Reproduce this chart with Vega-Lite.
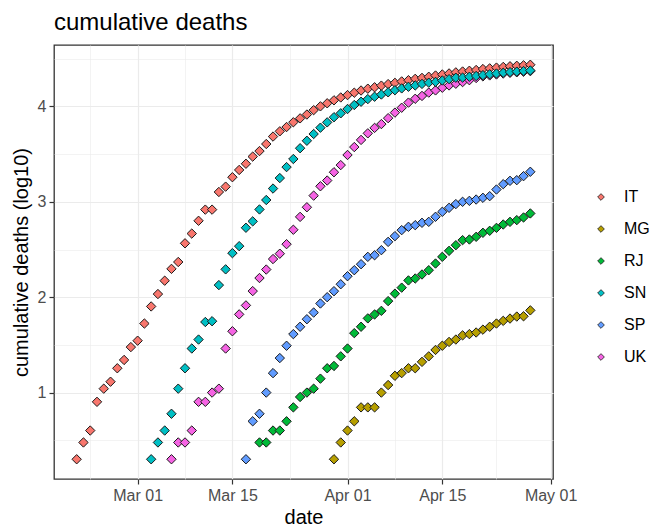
{
"$schema": "https://vega.github.io/schema/vega-lite/v6.json",
"width": 499, "height": 434,
"autosize": {"type": "none"},
"padding": {"left": 54, "top": 45, "right": 100, "bottom": 48},
"background": "white",
"title": {"text": "cumulative deaths", "anchor": "start", "frame": "group", "fontSize": 24, "font": "Liberation Sans", "fontWeight": "normal", "color": "#000000", "offset": 10},
"config": {"view": {"stroke": "#333333", "strokeWidth": 1.3}, "font": "Liberation Sans"},
"data": {"values": [
{"r":"IT","d":"2020-02-21","v":0.301},{"r":"IT","d":"2020-02-22","v":0.477},{"r":"IT","d":"2020-02-23","v":0.602},{"r":"IT","d":"2020-02-24","v":0.903},{"r":"IT","d":"2020-02-25","v":1.041},{"r":"IT","d":"2020-02-26","v":1.114},{"r":"IT","d":"2020-02-27","v":1.255},{"r":"IT","d":"2020-02-28","v":1.342},{"r":"IT","d":"2020-02-29","v":1.477},
{"r":"IT","d":"2020-03-01","v":1.544},{"r":"IT","d":"2020-03-02","v":1.724},{"r":"IT","d":"2020-03-03","v":1.903},{"r":"IT","d":"2020-03-04","v":2.033},{"r":"IT","d":"2020-03-05","v":2.173},{"r":"IT","d":"2020-03-06","v":2.297},{"r":"IT","d":"2020-03-07","v":2.369},{"r":"IT","d":"2020-03-08","v":2.565},{"r":"IT","d":"2020-03-09","v":2.667},{"r":"IT","d":"2020-03-10","v":2.801},{"r":"IT","d":"2020-03-11","v":2.918},{"r":"IT","d":"2020-03-12","v":2.918},{"r":"IT","d":"2020-03-13","v":3.103},{"r":"IT","d":"2020-03-14","v":3.159},{"r":"IT","d":"2020-03-15","v":3.258},{"r":"IT","d":"2020-03-16","v":3.334},{"r":"IT","d":"2020-03-17","v":3.399},{"r":"IT","d":"2020-03-18","v":3.474},{"r":"IT","d":"2020-03-19","v":3.532},{"r":"IT","d":"2020-03-20","v":3.606},{"r":"IT","d":"2020-03-21","v":3.684},{"r":"IT","d":"2020-03-22","v":3.739},{"r":"IT","d":"2020-03-23","v":3.784},{"r":"IT","d":"2020-03-24","v":3.834},{"r":"IT","d":"2020-03-25","v":3.875},{"r":"IT","d":"2020-03-26","v":3.915},{"r":"IT","d":"2020-03-27","v":3.961},{"r":"IT","d":"2020-03-28","v":4.001},{"r":"IT","d":"2020-03-29","v":4.033},{"r":"IT","d":"2020-03-30","v":4.064},{"r":"IT","d":"2020-03-31","v":4.094},
{"r":"IT","d":"2020-04-01","v":4.119},{"r":"IT","d":"2020-04-02","v":4.144},{"r":"IT","d":"2020-04-03","v":4.167},{"r":"IT","d":"2020-04-04","v":4.186},{"r":"IT","d":"2020-04-05","v":4.201},{"r":"IT","d":"2020-04-06","v":4.218},{"r":"IT","d":"2020-04-07","v":4.234},{"r":"IT","d":"2020-04-08","v":4.247},{"r":"IT","d":"2020-04-09","v":4.262},{"r":"IT","d":"2020-04-10","v":4.275},{"r":"IT","d":"2020-04-11","v":4.289},{"r":"IT","d":"2020-04-12","v":4.299},{"r":"IT","d":"2020-04-13","v":4.311},{"r":"IT","d":"2020-04-14","v":4.324},{"r":"IT","d":"2020-04-15","v":4.335},{"r":"IT","d":"2020-04-16","v":4.346},{"r":"IT","d":"2020-04-17","v":4.357},{"r":"IT","d":"2020-04-18","v":4.366},{"r":"IT","d":"2020-04-19","v":4.374},{"r":"IT","d":"2020-04-20","v":4.382},{"r":"IT","d":"2020-04-21","v":4.392},{"r":"IT","d":"2020-04-22","v":4.399},{"r":"IT","d":"2020-04-23","v":4.407},{"r":"IT","d":"2020-04-24","v":4.414},{"r":"IT","d":"2020-04-25","v":4.421},{"r":"IT","d":"2020-04-26","v":4.426},{"r":"IT","d":"2020-04-27","v":4.431},{"r":"IT","d":"2020-04-28","v":4.437},
{"r":"MG","d":"2020-03-30","v":0.301},{"r":"MG","d":"2020-03-31","v":0.477},{"r":"MG","d":"2020-04-01","v":0.602},{"r":"MG","d":"2020-04-02","v":0.699},{"r":"MG","d":"2020-04-03","v":0.845},{"r":"MG","d":"2020-04-04","v":0.845},{"r":"MG","d":"2020-04-05","v":0.845},{"r":"MG","d":"2020-04-06","v":1.0},{"r":"MG","d":"2020-04-07","v":1.079},{"r":"MG","d":"2020-04-08","v":1.176},{"r":"MG","d":"2020-04-09","v":1.204},{"r":"MG","d":"2020-04-10","v":1.255},{"r":"MG","d":"2020-04-11","v":1.255},{"r":"MG","d":"2020-04-12","v":1.322},{"r":"MG","d":"2020-04-13","v":1.38},{"r":"MG","d":"2020-04-14","v":1.447},{"r":"MG","d":"2020-04-15","v":1.491},{"r":"MG","d":"2020-04-16","v":1.531},{"r":"MG","d":"2020-04-17","v":1.556},{"r":"MG","d":"2020-04-18","v":1.6},{"r":"MG","d":"2020-04-19","v":1.613},{"r":"MG","d":"2020-04-20","v":1.63},{"r":"MG","d":"2020-04-21","v":1.66},{"r":"MG","d":"2020-04-22","v":1.69},{"r":"MG","d":"2020-04-23","v":1.724},{"r":"MG","d":"2020-04-24","v":1.752},{"r":"MG","d":"2020-04-25","v":1.776},{"r":"MG","d":"2020-04-26","v":1.797},{"r":"MG","d":"2020-04-27","v":1.8},{"r":"MG","d":"2020-04-28","v":1.862},
{"r":"RJ","d":"2020-03-19","v":0.477},{"r":"RJ","d":"2020-03-20","v":0.477},{"r":"RJ","d":"2020-03-21","v":0.602},{"r":"RJ","d":"2020-03-22","v":0.602},{"r":"RJ","d":"2020-03-23","v":0.699},{"r":"RJ","d":"2020-03-24","v":0.845},{"r":"RJ","d":"2020-03-25","v":0.954},{"r":"RJ","d":"2020-03-26","v":1.0},{"r":"RJ","d":"2020-03-27","v":1.041},{"r":"RJ","d":"2020-03-28","v":1.146},{"r":"RJ","d":"2020-03-29","v":1.255},{"r":"RJ","d":"2020-03-30","v":1.279},{"r":"RJ","d":"2020-03-31","v":1.38},{"r":"RJ","d":"2020-04-01","v":1.462},{"r":"RJ","d":"2020-04-02","v":1.623},{"r":"RJ","d":"2020-04-03","v":1.69},{"r":"RJ","d":"2020-04-04","v":1.778},{"r":"RJ","d":"2020-04-05","v":1.819},{"r":"RJ","d":"2020-04-06","v":1.857},{"r":"RJ","d":"2020-04-07","v":1.959},{"r":"RJ","d":"2020-04-08","v":2.037},{"r":"RJ","d":"2020-04-09","v":2.1},{"r":"RJ","d":"2020-04-10","v":2.176},{"r":"RJ","d":"2020-04-11","v":2.196},{"r":"RJ","d":"2020-04-12","v":2.238},{"r":"RJ","d":"2020-04-13","v":2.283},{"r":"RJ","d":"2020-04-14","v":2.353},{"r":"RJ","d":"2020-04-15","v":2.423},{"r":"RJ","d":"2020-04-16","v":2.486},{"r":"RJ","d":"2020-04-17","v":2.545},{"r":"RJ","d":"2020-04-18","v":2.598},{"r":"RJ","d":"2020-04-19","v":2.605},{"r":"RJ","d":"2020-04-20","v":2.633},{"r":"RJ","d":"2020-04-21","v":2.675},{"r":"RJ","d":"2020-04-22","v":2.696},{"r":"RJ","d":"2020-04-23","v":2.727},{"r":"RJ","d":"2020-04-24","v":2.762},{"r":"RJ","d":"2020-04-25","v":2.79},{"r":"RJ","d":"2020-04-26","v":2.808},{"r":"RJ","d":"2020-04-27","v":2.836},{"r":"RJ","d":"2020-04-28","v":2.878},
{"r":"SP","d":"2020-03-17","v":0.301},{"r":"SP","d":"2020-03-18","v":0.699},{"r":"SP","d":"2020-03-19","v":0.778},{"r":"SP","d":"2020-03-20","v":1.0},{"r":"SP","d":"2020-03-21","v":1.204},{"r":"SP","d":"2020-03-22","v":1.362},{"r":"SP","d":"2020-03-23","v":1.491},{"r":"SP","d":"2020-03-24","v":1.613},{"r":"SP","d":"2020-03-25","v":1.69},{"r":"SP","d":"2020-03-26","v":1.769},{"r":"SP","d":"2020-03-27","v":1.839},{"r":"SP","d":"2020-03-28","v":1.934},{"r":"SP","d":"2020-03-29","v":2.0},{"r":"SP","d":"2020-03-30","v":2.063},{"r":"SP","d":"2020-03-31","v":2.136},{"r":"SP","d":"2020-04-01","v":2.22},{"r":"SP","d":"2020-04-02","v":2.283},{"r":"SP","d":"2020-04-03","v":2.346},{"r":"SP","d":"2020-04-04","v":2.423},{"r":"SP","d":"2020-04-05","v":2.44},{"r":"SP","d":"2020-04-06","v":2.493},{"r":"SP","d":"2020-04-07","v":2.58},{"r":"SP","d":"2020-04-08","v":2.64},{"r":"SP","d":"2020-04-09","v":2.703},{"r":"SP","d":"2020-04-10","v":2.738},{"r":"SP","d":"2020-04-11","v":2.755},{"r":"SP","d":"2020-04-12","v":2.78},{"r":"SP","d":"2020-04-13","v":2.79},{"r":"SP","d":"2020-04-14","v":2.843},{"r":"SP","d":"2020-04-15","v":2.895},{"r":"SP","d":"2020-04-16","v":2.937},{"r":"SP","d":"2020-04-17","v":2.976},{"r":"SP","d":"2020-04-18","v":3.0},{"r":"SP","d":"2020-04-19","v":3.01},{"r":"SP","d":"2020-04-20","v":3.024},{"r":"SP","d":"2020-04-21","v":3.042},{"r":"SP","d":"2020-04-22","v":3.059},{"r":"SP","d":"2020-04-23","v":3.129},{"r":"SP","d":"2020-04-24","v":3.185},{"r":"SP","d":"2020-04-25","v":3.22},{"r":"SP","d":"2020-04-26","v":3.227},{"r":"SP","d":"2020-04-27","v":3.269},{"r":"SP","d":"2020-04-28","v":3.315},
{"r":"UK","d":"2020-03-06","v":0.301},{"r":"UK","d":"2020-03-07","v":0.477},{"r":"UK","d":"2020-03-08","v":0.477},{"r":"UK","d":"2020-03-09","v":0.602},{"r":"UK","d":"2020-03-10","v":0.903},{"r":"UK","d":"2020-03-11","v":0.903},{"r":"UK","d":"2020-03-12","v":1.0},{"r":"UK","d":"2020-03-13","v":1.041},{"r":"UK","d":"2020-03-14","v":1.462},{"r":"UK","d":"2020-03-15","v":1.643},{"r":"UK","d":"2020-03-16","v":1.82},{"r":"UK","d":"2020-03-17","v":1.914},{"r":"UK","d":"2020-03-18","v":2.064},{"r":"UK","d":"2020-03-19","v":2.201},{"r":"UK","d":"2020-03-20","v":2.29},{"r":"UK","d":"2020-03-21","v":2.4},{"r":"UK","d":"2020-03-22","v":2.456},{"r":"UK","d":"2020-03-23","v":2.556},{"r":"UK","d":"2020-03-24","v":2.707},{"r":"UK","d":"2020-03-25","v":2.842},{"r":"UK","d":"2020-03-26","v":2.943},{"r":"UK","d":"2020-03-27","v":3.065},{"r":"UK","d":"2020-03-28","v":3.163},{"r":"UK","d":"2020-03-29","v":3.223},{"r":"UK","d":"2020-03-30","v":3.31},{"r":"UK","d":"2020-03-31","v":3.385},{"r":"UK","d":"2020-04-01","v":3.491},{"r":"UK","d":"2020-04-02","v":3.574},{"r":"UK","d":"2020-04-03","v":3.649},{"r":"UK","d":"2020-04-04","v":3.718},{"r":"UK","d":"2020-04-05","v":3.775},{"r":"UK","d":"2020-04-06","v":3.815},{"r":"UK","d":"2020-04-07","v":3.877},{"r":"UK","d":"2020-04-08","v":3.935},{"r":"UK","d":"2020-04-09","v":3.986},{"r":"UK","d":"2020-04-10","v":4.04},{"r":"UK","d":"2020-04-11","v":4.08},{"r":"UK","d":"2020-04-12","v":4.11},{"r":"UK","d":"2020-04-13","v":4.145},{"r":"UK","d":"2020-04-14","v":4.168},{"r":"UK","d":"2020-04-15","v":4.196},{"r":"UK","d":"2020-04-16","v":4.22},{"r":"UK","d":"2020-04-17","v":4.238},{"r":"UK","d":"2020-04-18","v":4.255},{"r":"UK","d":"2020-04-19","v":4.275},{"r":"UK","d":"2020-04-20","v":4.298},{"r":"UK","d":"2020-04-21","v":4.315},{"r":"UK","d":"2020-04-22","v":4.325},{"r":"UK","d":"2020-04-23","v":4.335},{"r":"UK","d":"2020-04-24","v":4.345},{"r":"UK","d":"2020-04-25","v":4.352},{"r":"UK","d":"2020-04-26","v":4.358},{"r":"UK","d":"2020-04-27","v":4.364},{"r":"UK","d":"2020-04-28","v":4.37},
{"r":"SN","d":"2020-03-03","v":0.301},{"r":"SN","d":"2020-03-04","v":0.477},{"r":"SN","d":"2020-03-05","v":0.602},{"r":"SN","d":"2020-03-06","v":0.778},{"r":"SN","d":"2020-03-07","v":1.041},{"r":"SN","d":"2020-03-08","v":1.255},{"r":"SN","d":"2020-03-09","v":1.462},{"r":"SN","d":"2020-03-10","v":1.556},{"r":"SN","d":"2020-03-11","v":1.74},{"r":"SN","d":"2020-03-12","v":1.748},{"r":"SN","d":"2020-03-13","v":2.127},{"r":"SN","d":"2020-03-14","v":2.292},{"r":"SN","d":"2020-03-15","v":2.462},{"r":"SN","d":"2020-03-16","v":2.535},{"r":"SN","d":"2020-03-17","v":2.728},{"r":"SN","d":"2020-03-18","v":2.795},{"r":"SN","d":"2020-03-19","v":2.92},{"r":"SN","d":"2020-03-20","v":3.019},{"r":"SN","d":"2020-03-21","v":3.139},{"r":"SN","d":"2020-03-22","v":3.249},{"r":"SN","d":"2020-03-23","v":3.364},{"r":"SN","d":"2020-03-24","v":3.449},{"r":"SN","d":"2020-03-25","v":3.562},{"r":"SN","d":"2020-03-26","v":3.64},{"r":"SN","d":"2020-03-27","v":3.711},{"r":"SN","d":"2020-03-28","v":3.777},{"r":"SN","d":"2020-03-29","v":3.833},{"r":"SN","d":"2020-03-30","v":3.887},{"r":"SN","d":"2020-03-31","v":3.928},{"r":"SN","d":"2020-04-01","v":3.973},{"r":"SN","d":"2020-04-02","v":4.015},{"r":"SN","d":"2020-04-03","v":4.049},{"r":"SN","d":"2020-04-04","v":4.077},{"r":"SN","d":"2020-04-05","v":4.102},{"r":"SN","d":"2020-04-06","v":4.125},{"r":"SN","d":"2020-04-07","v":4.148},{"r":"SN","d":"2020-04-08","v":4.17},{"r":"SN","d":"2020-04-09","v":4.189},{"r":"SN","d":"2020-04-10","v":4.206},{"r":"SN","d":"2020-04-11","v":4.22},{"r":"SN","d":"2020-04-12","v":4.236},{"r":"SN","d":"2020-04-13","v":4.249},{"r":"SN","d":"2020-04-14","v":4.257},{"r":"SN","d":"2020-04-15","v":4.272},{"r":"SN","d":"2020-04-16","v":4.286},{"r":"SN","d":"2020-04-17","v":4.301},{"r":"SN","d":"2020-04-18","v":4.302},{"r":"SN","d":"2020-04-19","v":4.311},{"r":"SN","d":"2020-04-20","v":4.319},{"r":"SN","d":"2020-04-21","v":4.328},{"r":"SN","d":"2020-04-22","v":4.337},{"r":"SN","d":"2020-04-23","v":4.345},{"r":"SN","d":"2020-04-24","v":4.353},{"r":"SN","d":"2020-04-25","v":4.36},{"r":"SN","d":"2020-04-26","v":4.365},{"r":"SN","d":"2020-04-27","v":4.371},{"r":"SN","d":"2020-04-28","v":4.377}
]},
"mark": {"type": "point", "shape": "diamond", "filled": true, "size": 88, "stroke": "#1a1a1a", "strokeWidth": 1, "opacity": 1},
"encoding": {
  "x": {"field": "d", "type": "temporal",
    "scale": {"type": "utc", "domain": [{"year": 2020, "month": 2, "date": 17, "hours": 15, "minutes": 36, "utc": true}, {"year": 2020, "month": 5, "date": 1, "hours": 8, "minutes": 24, "utc": true}]},
    "axis": {"title": "date",
      "values": [{"year": 2020, "month": 2, "date": 23, "utc": true}, {"year": 2020, "month": 3, "date": 1, "utc": true}, {"year": 2020, "month": 3, "date": 8, "utc": true}, {"year": 2020, "month": 3, "date": 15, "utc": true}, {"year": 2020, "month": 3, "date": 23, "hours": 12, "utc": true}, {"year": 2020, "month": 4, "date": 1, "utc": true}, {"year": 2020, "month": 4, "date": 8, "utc": true}, {"year": 2020, "month": 4, "date": 15, "utc": true}, {"year": 2020, "month": 4, "date": 23, "utc": true}, {"year": 2020, "month": 5, "date": 1, "utc": true}],
      "labelExpr": "(utcdate(datum.value) == 1 || utcdate(datum.value) == 15) ? utcFormat(datum.value, '%b %d') : ''",
      "grid": true, "gridColor": "#EBEBEB",
      "gridWidth": {"condition": {"test": "utcdate(datum.value) == 1 || utcdate(datum.value) == 15", "value": 1.2}, "value": 0.6},
      "tickOpacity": {"condition": {"test": "utcdate(datum.value) == 1 || utcdate(datum.value) == 15", "value": 1}, "value": 0},
      "tickColor": "#333333", "tickSize": 5, "tickWidth": 1.2, "domain": false,
      "labelFontSize": 16, "labelColor": "#4D4D4D", "labelPadding": 3, "labelFlush": false, "labelOverlap": false, "labelFont": "Liberation Sans",
      "titleFontSize": 20, "titleFontWeight": "normal", "titleColor": "#000000", "titlePadding": 4, "titleFont": "Liberation Sans"}},
  "y": {"field": "v", "type": "quantitative",
    "scale": {"domain": [0.094, 4.644], "nice": false, "zero": false},
    "axis": {"title": "cumulative deaths (log10)",
      "values": [0.5, 1, 1.5, 2, 2.5, 3, 3.5, 4, 4.5],
      "labelExpr": "datum.value % 1 == 0 ? format(datum.value, 'd') : ''",
      "grid": true, "gridColor": "#EBEBEB",
      "gridWidth": {"condition": {"test": "datum.value % 1 == 0", "value": 1.2}, "value": 0.6},
      "tickOpacity": {"condition": {"test": "datum.value % 1 == 0", "value": 1}, "value": 0},
      "tickColor": "#333333", "tickSize": 5, "tickWidth": 1.2, "domain": false,
      "labelFontSize": 16, "labelColor": "#4D4D4D", "labelPadding": 3, "labelFont": "Liberation Sans",
      "titleFontSize": 20, "titleFontWeight": "normal", "titleColor": "#000000", "titlePadding": 6, "titleFont": "Liberation Sans"}},
  "color": {"field": "r", "type": "nominal",
    "scale": {"domain": ["IT", "MG", "RJ", "SN", "SP", "UK"], "range": ["#F8766D", "#B79F00", "#00BA38", "#00BFC4", "#619CFF", "#F564E3"]},
    "legend": {"title": null, "orient": "none", "legendX": 539, "legendY": 144, "padding": 0,
      "symbolType": "diamond", "symbolSize": 45, "symbolStrokeColor": "#1a1a1a", "symbolStrokeWidth": 0.8, "symbolOpacity": 1,
      "labelFontSize": 16, "labelColor": "#000000", "labelFont": "Liberation Sans", "labelOffset": 15, "rowPadding": 16}}
}
}
